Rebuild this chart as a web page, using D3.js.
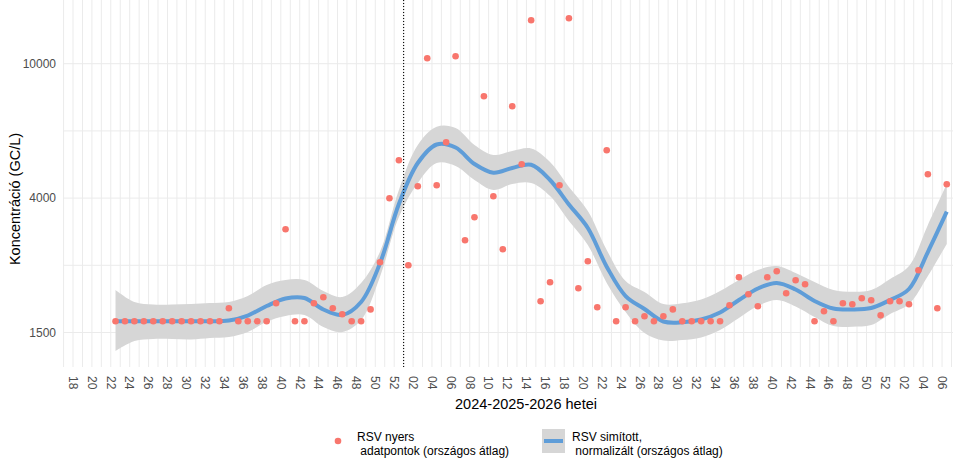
<!DOCTYPE html>
<html>
<head>
<meta charset="utf-8">
<script src="https://cdn.jsdelivr.net/npm/d3@7"></script>
<style>
  body { margin: 0; background: #fff; }
  svg { display: block; font-family: "Liberation Sans", Arial, sans-serif; }
</style>
</head>
<body>
<svg width="953" height="469"></svg>
<script>
// raw weekly measurements (national average)
const rawWeeks = [
  "2024-22","2024-23","2024-24","2024-25","2024-26","2024-27","2024-28","2024-29","2024-30","2024-31",
  "2024-32","2024-33","2024-34","2024-35","2024-36","2024-37","2024-38","2024-39","2024-40","2024-41",
  "2024-42","2024-43","2024-44","2024-45","2024-46","2024-47","2024-48","2024-49","2024-50","2024-51","2024-52",
  "2025-01","2025-02","2025-03","2025-04","2025-05","2025-06","2025-07","2025-08","2025-09","2025-10",
  "2025-11","2025-12","2025-13","2025-14","2025-15","2025-16","2025-17","2025-18","2025-19","2025-20",
  "2025-21","2025-22","2025-23","2025-24","2025-25","2025-26","2025-27","2025-28","2025-29","2025-30",
  "2025-31","2025-32","2025-33","2025-34","2025-35","2025-36","2025-37","2025-38","2025-39","2025-40",
  "2025-41","2025-42","2025-43","2025-44","2025-45","2025-46","2025-47","2025-48","2025-49","2025-50",
  "2025-51","2025-52",
  "2026-01","2026-02","2026-03","2026-04","2026-05","2026-06"
];
const rawValues = [
  1635,1635,1635,1635,1635,1635,1635,1635,1635,1635,
  1635,1635,1805,1635,1635,1635,1635,1874,3212,1635,
  1635,1874,1960,1805,1725,1635,1635,1790,2536,3995,5197,
  2481,4343,10370,4373,5879,10510,2970,3497,8034,4051,
  2785,7508,5056,13362,1903,2191,4373,13542,2096,2554,
  1820,5566,1635,1820,1635,1700,1635,1700,1790,1635,
  1635,1635,1635,1635,1846,2273,2005,1832,2273,2375,
  2020,2223,2159,1635,1765,1635,1874,1860,1946,1917,
  1711,1903,
  1903,1860,2392,4719,1805,4404
];

// smoothed, normalized curve with its confidence band
const smoothWeeks = [
  "2024-22","2024-24","2024-26","2024-28","2024-30","2024-32","2024-34","2024-36","2024-38","2024-40",
  "2024-42","2024-44","2024-46","2024-48","2024-50","2024-52",
  "2025-02","2025-04","2025-06","2025-08","2025-10","2025-12","2025-14","2025-16","2025-18","2025-20",
  "2025-22","2025-24","2025-26","2025-28","2025-30","2025-32","2025-34","2025-36","2025-38","2025-40",
  "2025-42","2025-44","2025-46","2025-48","2025-50","2025-52",
  "2026-02","2026-04","2026-06"
];
const smoothFit = [
  1635,1635,1635,1635,1635,1635,1645,1709,1836,1943,
  1950,1789,1716,1893,2517,3839,
  5101,5791,5674,5066,4771,4929,5039,4537,3825,3242,
  2456,1979,1795,1633,1623,1658,1749,1921,2093,2180,
  2077,1907,1802,1789,1809,1921,
  2085,2731,3637
];
const smoothHigh = [
  2070,1893,1857,1857,1864,1878,1893,1979,2148,2228,
  2228,2054,1965,2180,2737,4232,
  5772,6538,6481,5772,5390,5539,5635,5137,4322,3655,
  2771,2212,2039,1864,1874,1928,2054,2228,2397,2468,
  2346,2196,2070,2044,2070,2245,
  2468,3311,4413
];
const smoothLow = [
  1297,1404,1426,1426,1420,1437,1448,1506,1630,1703,
  1716,1565,1506,1652,2283,3504,
  4443,5101,4997,4537,4232,4413,4443,4059,3406,2872,
  2180,1755,1494,1409,1415,1443,1529,1677,1836,1921,
  1830,1690,1577,1569,1589,1729,
  1864,2295,2893
];

const xTickLabels = ["18","20","22","24","26","28","30","32","34","36","38","40","42","44","46","48","50","52",
  "02","04","06","08","10","12","14","16","18","20","22","24","26","28","30","32","34","36","38","40","42","44","46","48","50","52",
  "02","04","06"];
const yTicks = [1500, 4000, 10000];
const markerWeek = "2025-01";

const svg = d3.select("svg"),
    width = +svg.attr("width"),
    height = +svg.attr("height");

const panel = {left: 63, right: 953, top: 0, bottom: 367};

// week index counted from 2024 week 18 (2024 and 2025 both have 52 ISO weeks)
function weekIndex(s) {
  const [yr, wk] = s.split("-").map(Number);
  return (yr - 2024) * 52 + wk - 18;
}

const x = d3.scaleLinear()
    .domain([-1.06, 93.16])
    .range([panel.left, panel.right]);

const y = d3.scaleSymlog()
    .constant(286)
    .domain([1500, 10000])
    .range([332.5, 63.7]);

// grid
const grid = svg.append("g").attr("class", "grid");

grid.selectAll(".vgrid")
  .data(d3.range(-1, 94))
  .join("line")
    .attr("x1", d => x(d)).attr("x2", d => x(d))
    .attr("y1", panel.top).attr("y2", panel.bottom)
    .attr("stroke", "#ebebeb").attr("stroke-width", 1);

const minorY = d3.pairs(yTicks).map(p => y.invert((y(p[0]) + y(p[1])) / 2));
grid.selectAll(".hgrid")
  .data(yTicks.concat(minorY))
  .join("line")
    .attr("x1", panel.left).attr("x2", panel.right)
    .attr("y1", d => y(d)).attr("y2", d => y(d))
    .attr("stroke", "#ebebeb").attr("stroke-width", 1);

// ribbon + smoothed line
const smooth = smoothWeeks.map((w, i) => ({
  idx: weekIndex(w) + 0.5, fit: smoothFit[i], lo: smoothLow[i], hi: smoothHigh[i]
}));

svg.append("path")
  .datum(smooth)
  .attr("fill", "#d6d6d6")
  .attr("d", d3.area()
      .x(d => x(d.idx))
      .y0(d => y(d.lo))
      .y1(d => y(d.hi))
      .curve(d3.curveCatmullRom));

svg.append("path")
  .datum(smooth)
  .attr("fill", "none")
  .attr("stroke", "#5f9dd8")
  .attr("stroke-width", 4)
  .attr("d", d3.line()
      .x(d => x(d.idx))
      .y(d => y(d.fit))
      .curve(d3.curveCatmullRom));

// vertical marker at the new year
svg.append("line")
  .attr("x1", x(weekIndex(markerWeek))).attr("x2", x(weekIndex(markerWeek)))
  .attr("y1", panel.top).attr("y2", panel.bottom)
  .attr("stroke", "#000").attr("stroke-width", 1.1)
  .attr("stroke-dasharray", "1,2");

// raw points
svg.append("g")
  .selectAll("circle")
  .data(rawWeeks.map((w, i) => ({idx: weekIndex(w) + 0.5, v: rawValues[i]})))
  .join("circle")
    .attr("cx", d => x(d.idx))
    .attr("cy", d => y(d.v))
    .attr("r", 3.3)
    .attr("fill", "#F8766D");

// axes labels
svg.append("g")
  .selectAll("text")
  .data(yTicks)
  .join("text")
    .attr("x", 56)
    .attr("y", d => y(d))
    .attr("dy", "0.35em")
    .attr("text-anchor", "end")
    .attr("font-size", 12)
    .attr("fill", "#4d4d4d")
    .text(d => d);

svg.append("g")
  .selectAll("text")
  .data(xTickLabels.map((t, i) => ({t: t, idx: i * 2})))
  .join("text")
    .attr("transform", d => `translate(${x(d.idx)},376) rotate(90)`)
    .attr("dy", "0.35em")
    .attr("font-size", 12)
    .attr("fill", "#4d4d4d")
    .text(d => d.t);

svg.append("text")
  .attr("x", 526).attr("y", 409)
  .attr("text-anchor", "middle")
  .attr("font-size", 14.5)
  .attr("fill", "#000")
  .text("2024-2025-2026 hetei");

svg.append("text")
  .attr("transform", "translate(20,199) rotate(-90)")
  .attr("text-anchor", "middle")
  .attr("font-size", 14.5)
  .attr("fill", "#000")
  .text("Koncentráció (GC/L)");

// legend
const legend = svg.append("g").attr("font-size", 12).attr("fill", "#000");

legend.append("circle")
  .attr("cx", 338).attr("cy", 441).attr("r", 3.3)
  .attr("fill", "#F8766D");
legend.append("text").attr("x", 357).attr("y", 440.5).text("RSV nyers");
legend.append("text").attr("x", 357).attr("y", 455).attr("xml:space", "preserve").text(" adatpontok (országos átlag)");

legend.append("rect")
  .attr("x", 542).attr("y", 429).attr("width", 23).attr("height", 24)
  .attr("fill", "#d6d6d6");
legend.append("line")
  .attr("x1", 544).attr("x2", 563).attr("y1", 441).attr("y2", 441)
  .attr("stroke", "#5f9dd8").attr("stroke-width", 4);
legend.append("text").attr("x", 572).attr("y", 440.5).text("RSV simított,");
legend.append("text").attr("x", 572).attr("y", 455).attr("xml:space", "preserve").text(" normalizált (országos átlag)");
</script>
</body>
</html>
